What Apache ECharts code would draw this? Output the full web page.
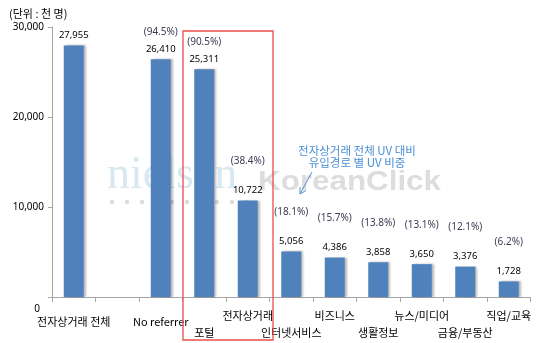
<!DOCTYPE html>
<html><head><meta charset="utf-8">
<script src="https://cdn.jsdelivr.net/npm/echarts@6/dist/echarts.min.js"></script>
<style>html,body{margin:0;padding:0;background:#fff}#c{width:543px;height:343px}</style>
</head><body><div id="c"></div>
<script>
var categories = ['전자상거래 전체', '', 'No referrer', '포털', '전자상거래', '인터넷서비스', '비즈니스', '생활정보', '뉴스/미디어', '금융/부동산', '직업/교육'];
var values = [27955, null, 26410, 25311, 10722, 5056, 4386, 3858, 3650, 3376, 1728];
var shares = ['', '', '94.5%', '90.5%', '38.4%', '18.1%', '15.7%', '13.8%', '13.1%', '12.1%', '6.2%'];
var yTicks = [0, 10000, 20000, 30000];

var KR = '"Noto Sans CJK KR", sans-serif';
function fmt(v){ return String(v).replace(/\B(?=(\d{3})+(?!\d))/g, ','); }
// label row style per category (top / middle / bottom row)
var rowStyle = ['m','m','m','b','t','b','t','b','t','b','t'];

var chart = echarts.init(document.getElementById('c'), null, {renderer:'canvas'});
var dots = [];
for (var i = 0; i < 10; i++) dots.push({type:'circle', z:0, shape:{cx:112 + i*15, cy:202, r:2.2}, style:{fill:'#dcdcdc'}});

chart.setOption({
  animation:false,
  grid:{left:52, right:12.5, top:27, bottom:46},
  xAxis:{
    type:'category', data:categories,
    axisLine:{lineStyle:{color:'#a6a6a6'}},
    axisTick:{show:true, length:5, lineStyle:{color:'#a6a6a6'}},
    axisLabel:{interval:0, margin:12, fontFamily:KR, fontSize:11, color:'#000',
      formatter:function(v, idx){ return v ? '{' + rowStyle[idx] + '|' + v + '}' : ''; },
      rich:{
        t:{fontFamily:KR, fontSize:11, color:'#000', lineHeight:14},
        m:{fontFamily:KR, fontSize:11, color:'#000', lineHeight:14, padding:[12,0,0,0]},
        b:{fontFamily:KR, fontSize:11, color:'#000', lineHeight:14, padding:[34,0,0,0]}
      }}
  },
  yAxis:{
    type:'value', min:yTicks[0], max:yTicks[yTicks.length-1], interval:10000,
    splitLine:{show:false},
    axisLine:{show:true, lineStyle:{color:'#a6a6a6'}},
    axisTick:{show:true, length:4, lineStyle:{color:'#a6a6a6'}},
    axisLabel:{margin:8, fontFamily:'"Noto Sans", sans-serif', fontSize:10, color:'#000',
      formatter:function(v){ return v === 0 ? '{z|0}' : fmt(v); },
      rich:{z:{fontFamily:'"Noto Sans", sans-serif', fontSize:10, color:'#000', padding:[24,4,0,0]}}}
  },
  series:[{
    type:'bar', barWidth:20, z:3,
    itemStyle:{color:'#4f81bd', shadowColor:'rgba(0,0,0,0.28)', shadowBlur:2, shadowOffsetX:2, shadowOffsetY:0},
    data:values.map(function(v, i){
      if (v === null) return null;
      var gap = v > 20000 ? 17 : 29;
      return {value:v, label:{
        show:true, position:'top', distance:4,
        formatter: shares[i] ? '{p|(' + shares[i] + ')}\n{v|' + fmt(v) + '}' : '{v|' + fmt(v) + '}',
        rich:{
          p:{fontFamily:'"Noto Sans", sans-serif', fontSize:10, color:'#3b3b55', lineHeight:2*(gap-6)},
          v:{fontFamily:'"Noto Sans", sans-serif', fontSize:9.5, color:'#000', lineHeight:12}
        }}};
    })
  }],
  graphic:[
    {type:'text', z:10, left:9, top:8, style:{text:'(단위 : 천 명)', font:'11px "Noto Sans CJK KR"', fill:'#000'}},
    {type:'text', z:0, x:107, y:153, style:{text:'nielsen', font:'46px "Liberation Serif"', fill:'#d7e8f1', verticalAlign:'top'}},
    {type:'text', z:0, x:258, y:168, scaleX:1.12, style:{text:'KoreanClick', font:'bold 28px "Liberation Sans"', fill:'#dddddd', verticalAlign:'top'}},
    {type:'group', z:0, children:dots},
    {type:'text', z:10, x:357, y:157, style:{text:'전자상거래 전체 UV 대비\n유입경로 별 UV 비중', font:'11.5px "Noto Sans CJK KR"', fill:'#4a8fd6', align:'center', verticalAlign:'middle', lineHeight:12}},
    {type:'line', z:10, shape:{x1:312, y1:172, x2:300, y2:194}, style:{stroke:'#5b8fd0', lineWidth:1}},
    {type:'polyline', z:10, shape:{points:[[306,190.5],[300,194],[300,187]]}, style:{stroke:'#5b8fd0', lineWidth:1, fill:null}},
    {type:'rect', z:10, shape:{x:183, y:31, width:90, height:309}, style:{stroke:'#ee4b4b', lineWidth:1.3, fill:null}}
  ]
});
</script></body></html>
